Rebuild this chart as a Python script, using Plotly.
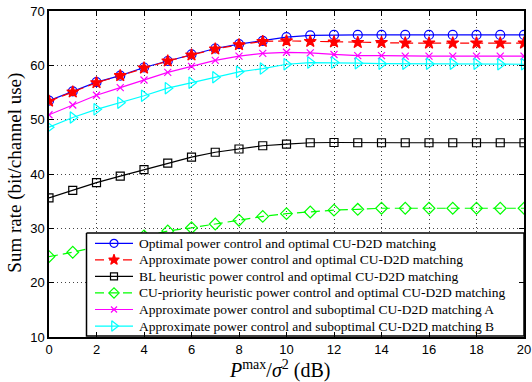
import plotly.graph_objects as go

x_db = list(range(0, 21))

optimal = [53.5, 55.2, 56.9, 58.1, 59.6, 60.8, 62.0, 63.1, 63.9, 64.5, 65.2, 65.5, 65.6,
           65.6, 65.6, 65.6, 65.6, 65.6, 65.6, 65.6, 65.6]
approx = [53.4, 55.1, 56.8, 58.1, 59.5, 60.8, 61.9, 63.0, 63.8, 64.4, 64.5, 64.4, 64.3,
          64.2, 64.2, 64.1, 64.1, 64.1, 64.1, 64.1, 64.1]
bl_heur = [35.6, 37.0, 38.4, 39.6, 40.8, 42.0, 43.1, 44.0, 44.6, 45.2, 45.5, 45.75, 45.8,
           45.75, 45.75, 45.75, 45.75, 45.75, 45.75, 45.75, 45.75]
cu_prio = [24.8, 25.6, 26.6, 27.6, 28.6, 29.5, 30.1, 30.8, 31.5, 32.2, 32.7, 33.0, 33.35,
           33.5, 33.7, 33.7, 33.7, 33.7, 33.7, 33.7, 33.7]
subopt_a = [50.9, 52.7, 54.5, 55.9, 57.3, 58.7, 59.8, 60.9, 61.7, 62.2, 62.4, 62.3, 62.0,
            61.8, 61.8, 61.7, 61.7, 61.7, 61.7, 61.7, 61.7]
subopt_b = [48.6, 50.4, 51.9, 53.1, 54.4, 55.8, 56.8, 57.8, 58.8, 59.4, 60.2, 60.5, 60.5,
            60.4, 60.3, 60.3, 60.3, 60.3, 60.3, 60.2, 60.2]

names = [
    "Optimal power control and optimal CU-D2D matching",
    "Approximate power control and optimal CU-D2D matching",
    "BL heuristic power control and optimal CU-D2D matching",
    "CU-priority heuristic power control and optimal CU-D2D matching",
    "Approximate power control and suboptimal CU-D2D matching A",
    "Approximate power control and suboptimal CU-D2D matching B",
]
series = [optimal, approx, bl_heur, cu_prio, subopt_a, subopt_b]
colors = ["#0000ff", "#ff0000", "#000000", "#00ff00", "#ff00ff", "#00ffff"]
symbols = ["circle-open", "star", "square-open", "diamond-open", "x-thin-open", "triangle-right-open"]
dashes = ["solid", "9px,5px", "solid", "9px,5px", "solid", "solid"]
sizes = [9, 9, 8, 9, 7, 10]

SERIF = "Liberation Serif"

fig = go.Figure()
for name, ys, c, s, d, sz in zip(names, series, colors, symbols, dashes, sizes):
    fig.add_trace(go.Scatter(
        x=x_db, y=ys, name=name, mode="lines+markers", showlegend=False,
        line=dict(color=c, width=1.2, dash=d),
        marker=dict(symbol=s, size=sz, color=c, line=dict(color=c, width=1.2)),
    ))

# ---- custom legend on a pixel-coordinate overlay axis ----
PX_L, PX_R, PX_T, PX_B = 49, 524, 11, 337
box_l, box_r, box_t, box_b = 86.5, 524, 233, 336
row0, row_dy = 243.3, 16.55
seg_l, seg_r, mk_x, txt_x = 95, 133, 114, 137

fig.add_trace(go.Scatter(
    x=[box_l, box_r, box_r, box_l, box_l], y=[box_t, box_t, box_b, box_b, box_t],
    xaxis="x2", yaxis="y2", mode="lines", fill="toself", fillcolor="white",
    line=dict(color="black", width=1.5), showlegend=False, hoverinfo="skip",
))
for i, (c, s, d, sz) in enumerate(zip(colors, symbols, dashes, sizes)):
    ry = row0 + i * row_dy
    fig.add_trace(go.Scatter(
        x=[seg_l, seg_r], y=[ry, ry], xaxis="x2", yaxis="y2", mode="lines",
        line=dict(color=c, width=1.2, dash=d), showlegend=False, hoverinfo="skip",
    ))
    fig.add_trace(go.Scatter(
        x=[mk_x], y=[ry], xaxis="x2", yaxis="y2", mode="markers",
        marker=dict(symbol=s, size=sz - 1, color=c, line=dict(color=c, width=1.2)),
        showlegend=False, hoverinfo="skip",
    ))

annotations = []
for i, name in enumerate(names):
    ry = row0 + i * row_dy
    annotations.append(dict(
        text=name, xref="x2", yref="y2", x=txt_x, y=ry, xanchor="left", yanchor="middle",
        showarrow=False, font=dict(family=SERIF, size=13.5, color="black"),
    ))

axis_common = dict(
    showline=True, linecolor="black", linewidth=1.5, mirror="ticks",
    ticks="inside", ticklen=5, tickcolor="black",
    showgrid=True, gridcolor="#444444", griddash="1px,3px", gridwidth=1,
    zeroline=False, automargin=False,
    tickfont=dict(family="Liberation Sans", size=13, color="black"),
)

fig.update_layout(
    xaxis=dict(range=[0, 20], tickvals=list(range(0, 21, 2)), **axis_common),
    yaxis=dict(range=[10, 70], tickvals=list(range(10, 71, 10)), **axis_common),
    xaxis2=dict(range=[PX_L, PX_R], overlaying="x", visible=False, fixedrange=True),
    yaxis2=dict(range=[PX_B, PX_T], overlaying="y", visible=False, fixedrange=True),
    width=532, height=382,
    margin=dict(l=PX_L, r=532 - PX_R, t=PX_T, b=382 - PX_B),
    paper_bgcolor="white", plot_bgcolor="white",
    showlegend=False,
    font=dict(family=SERIF),
)

annotations += [
    dict(text="<i>P</i><sup>max</sup>/<i>σ</i><sup>2</sup> (dB)", xref="paper", yref="paper",
         x=0.485, y=-0.1, xanchor="center", yanchor="middle", showarrow=False,
         font=dict(family=SERIF, size=20, color="black")),
    dict(text="Sum rate (bit/channel use)", xref="paper", yref="paper",
         x=-0.071, y=0.505, xanchor="center", yanchor="middle", textangle=-90, showarrow=False,
         font=dict(family=SERIF, size=19, color="black")),
]
fig.update_layout(annotations=annotations)

fig.write_html("out.html")
